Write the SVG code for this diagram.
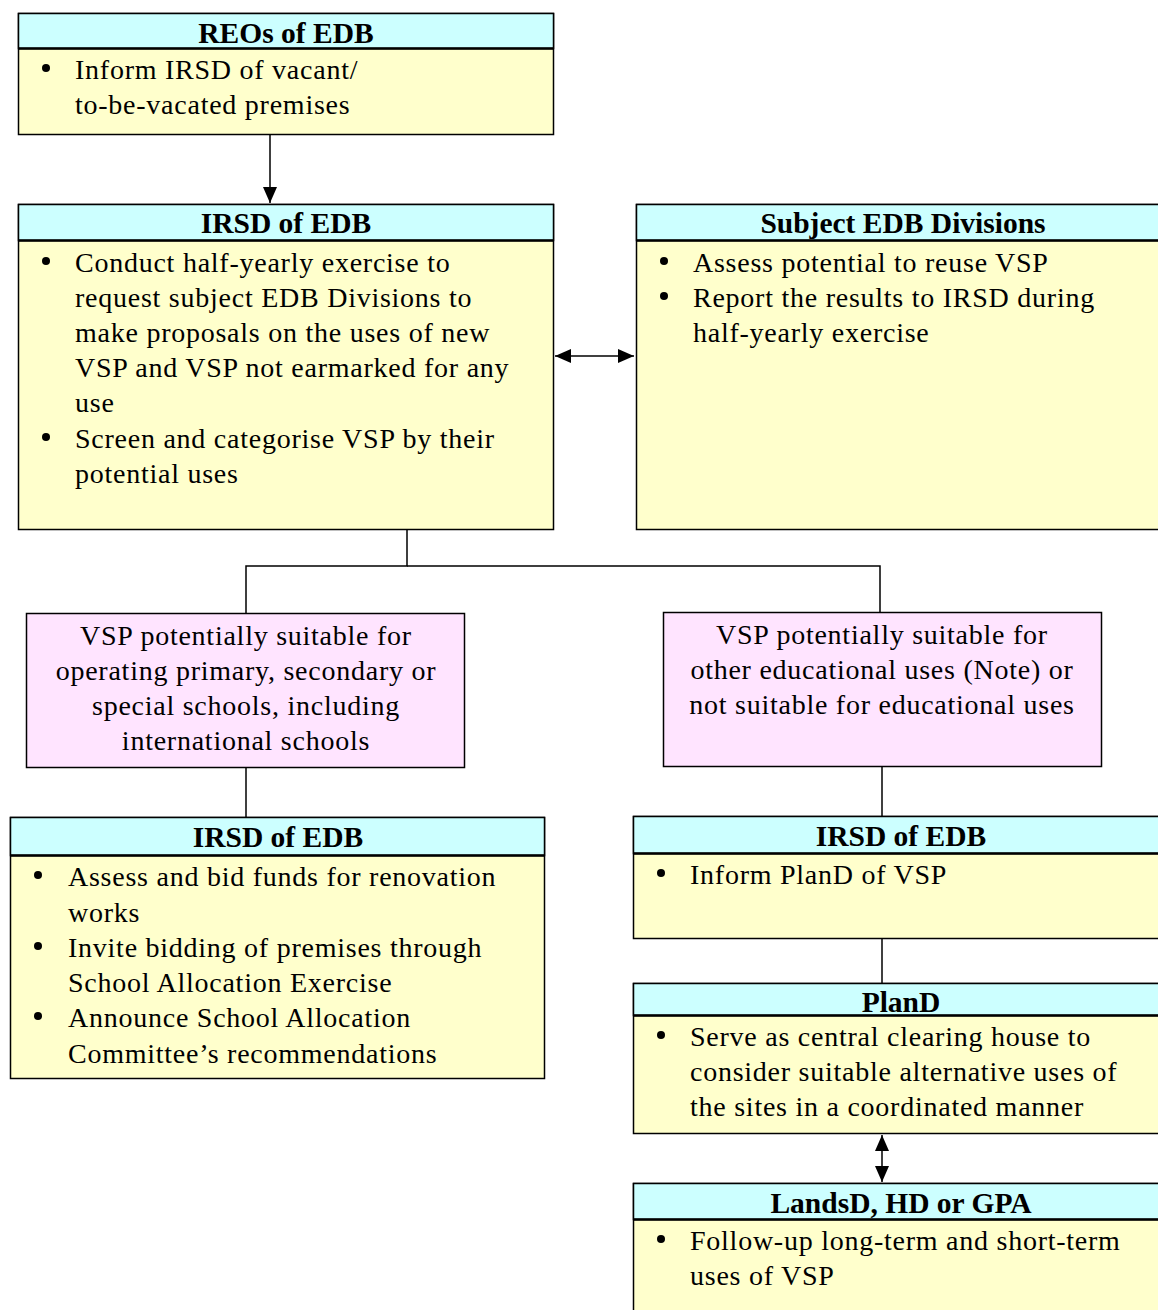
<svg xmlns="http://www.w3.org/2000/svg" width="1158" height="1310" viewBox="0 0 1158 1310">
<style>
.hd{fill:#CCFFFF;stroke:#000;stroke-width:1.5}
.bd{fill:#FFFFCC;stroke:#000;stroke-width:1.5}
.pk{fill:#FFE4FF;stroke:#000;stroke-width:1.5}
.dv{stroke:#000;stroke-width:2.5}
text{font-family:"Liberation Serif","Times New Roman",serif;font-size:28px;letter-spacing:0.75px;fill:#000}
.h{font-weight:bold;text-anchor:middle;font-size:29.5px;letter-spacing:0}
.c{text-anchor:middle}
.b{fill:#000}
.ln{stroke:#000;stroke-width:1.5;fill:none}
</style>
<defs>
<marker id="ah2" viewBox="0 0 16 14" refX="16" refY="7" markerWidth="16" markerHeight="14" markerUnits="userSpaceOnUse" orient="auto-start-reverse">
<path d="M0,0 L16,7 L0,14 z" fill="#000"/>
</marker>
</defs>

<g id="connectors">
<line class="ln" x1="270" y1="134" x2="270" y2="203" marker-end="url(#ah2)"/>
<line class="ln" x1="555" y1="356" x2="634" y2="356" marker-start="url(#ah2)" marker-end="url(#ah2)"/>
<polyline class="ln" points="407,529 407,566 246,566 246,613"/>
<polyline class="ln" points="407,566 880,566 880,612"/>
<line class="ln" x1="246" y1="767" x2="246" y2="817"/>
<line class="ln" x1="882" y1="766" x2="882" y2="816"/>
<line class="ln" x1="882" y1="938" x2="882" y2="983"/>
<line class="ln" x1="882" y1="1135" x2="882" y2="1182" marker-start="url(#ah2)" marker-end="url(#ah2)"/>
</g>

<g id="reos">
<rect class="bd" x="18.5" y="13.5" width="535" height="121"/>
<rect class="hd" x="18.5" y="13.5" width="535" height="35"/>
<line class="dv" x1="18.5" y1="48.5" x2="553.5" y2="48.5"/>
<text class="h" x="286" y="43">REOs of EDB</text>
<circle class="b" cx="46" cy="68" r="4"/>
<text x="75" y="79">Inform IRSD of vacant/</text>
<text x="75" y="114">to-be-vacated premises</text>
</g>

<g id="irsd1">
<rect class="bd" x="18.5" y="204.5" width="535" height="325"/>
<rect class="hd" x="18.5" y="204.5" width="535" height="36"/>
<line class="dv" x1="18.5" y1="240.5" x2="553.5" y2="240.5"/>
<text class="h" x="286" y="233">IRSD of EDB</text>
<circle class="b" cx="46" cy="261" r="4"/>
<text x="75" y="272">Conduct half-yearly exercise to</text>
<text x="75" y="307">request subject EDB Divisions to</text>
<text x="75" y="342">make proposals on the uses of new</text>
<text x="75" y="377">VSP and VSP not earmarked for any</text>
<text x="75" y="412">use</text>
<circle class="b" cx="46" cy="437" r="4"/>
<text x="75" y="448">Screen and categorise VSP by their</text>
<text x="75" y="483">potential uses</text>
</g>

<g id="subject">
<rect class="bd" x="636.5" y="204.5" width="530" height="325"/>
<rect class="hd" x="636.5" y="204.5" width="530" height="36"/>
<line class="dv" x1="636.5" y1="240.5" x2="1166" y2="240.5"/>
<text class="h" x="903" y="233">Subject EDB Divisions</text>
<circle class="b" cx="664" cy="261" r="4"/>
<text x="693" y="272">Assess potential to reuse VSP</text>
<circle class="b" cx="664" cy="296" r="4"/>
<text x="693" y="307">Report the results to IRSD during</text>
<text x="693" y="342">half-yearly exercise</text>
</g>

<g id="pinkleft">
<rect class="pk" x="26.5" y="613.5" width="438" height="154"/>
<text class="c" x="246" y="645">VSP potentially suitable for</text>
<text class="c" x="246" y="680">operating primary, secondary or</text>
<text class="c" x="246" y="715">special schools, including</text>
<text class="c" x="246" y="750">international schools</text>
</g>

<g id="pinkright">
<rect class="pk" x="663.5" y="612.5" width="438" height="154"/>
<text class="c" x="882" y="644">VSP potentially suitable for</text>
<text class="c" x="882" y="679">other educational uses (Note) or</text>
<text class="c" x="882" y="714">not suitable for educational uses</text>
</g>

<g id="irsd2">
<rect class="bd" x="10.5" y="817.5" width="534" height="261"/>
<rect class="hd" x="10.5" y="817.5" width="534" height="38"/>
<line class="dv" x1="10.5" y1="855.5" x2="544.5" y2="855.5"/>
<text class="h" x="278" y="847">IRSD of EDB</text>
<circle class="b" cx="38" cy="875" r="4"/>
<text x="68" y="886">Assess and bid funds for renovation</text>
<text x="68" y="922">works</text>
<circle class="b" cx="38" cy="946" r="4"/>
<text x="68" y="957">Invite bidding of premises through</text>
<text x="68" y="992">School Allocation Exercise</text>
<circle class="b" cx="38" cy="1016" r="4"/>
<text x="68" y="1027">Announce School Allocation</text>
<text x="68" y="1063">Committee’s recommendations</text>
</g>

<g id="irsd3">
<rect class="bd" x="633.5" y="816.5" width="533" height="122"/>
<rect class="hd" x="633.5" y="816.5" width="533" height="37"/>
<line class="dv" x1="633.5" y1="853.5" x2="1166" y2="853.5"/>
<text class="h" x="901" y="846">IRSD of EDB</text>
<circle class="b" cx="661" cy="873" r="4"/>
<text x="690" y="884">Inform PlanD of VSP</text>
</g>

<g id="pland">
<rect class="bd" x="633.5" y="983.5" width="533" height="150"/>
<rect class="hd" x="633.5" y="983.5" width="533" height="32"/>
<line class="dv" x1="633.5" y1="1015.5" x2="1166" y2="1015.5"/>
<text class="h" x="901" y="1012">PlanD</text>
<circle class="b" cx="661" cy="1035" r="4"/>
<text x="690" y="1046">Serve as central clearing house to</text>
<text x="690" y="1081">consider suitable alternative uses of</text>
<text x="690" y="1116">the sites in a coordinated manner</text>
</g>

<g id="landsd">
<rect class="bd" x="633.5" y="1183.5" width="533" height="140"/>
<rect class="hd" x="633.5" y="1183.5" width="533" height="36"/>
<line class="dv" x1="633.5" y1="1219.5" x2="1166" y2="1219.5"/>
<text class="h" x="901" y="1213">LandsD, HD or GPA</text>
<circle class="b" cx="661" cy="1239" r="4"/>
<text x="690" y="1250">Follow-up long-term and short-term</text>
<text x="690" y="1285">uses of VSP</text>
</g>
</svg>
